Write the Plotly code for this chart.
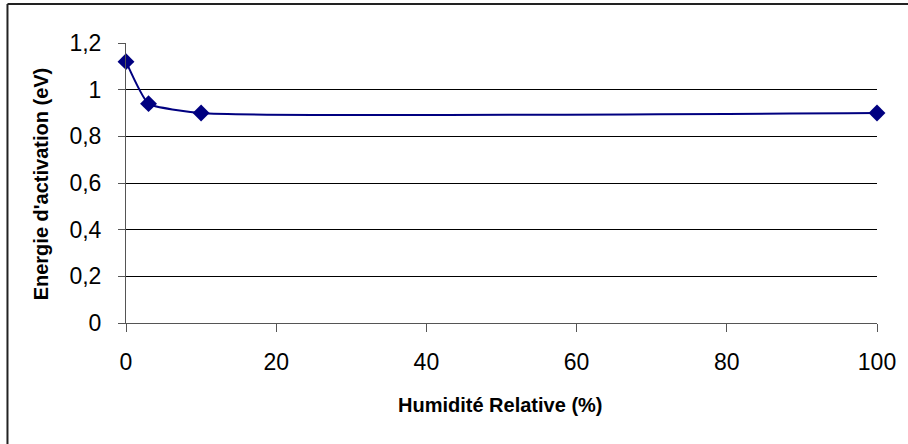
import plotly.graph_objects as go

humidite = [0, 3, 10, 100]
energie = [1.12, 0.94, 0.90, 0.90]
x_ticks = [0, 20, 40, 60, 80, 100]
y_ticks = [0, 0.2, 0.4, 0.6, 0.8, 1.0, 1.2]
x_title = "Humidité Relative (%)"
y_title = "Energie d'activation (eV)"

W, H = 908, 444
ML, MR, MT, MB = 126, 28, 43, 121
PW, PH = W - ML - MR, H - MT - MB

def px(x):
    return (x - ML) / PW

def py(y):
    return (H - MB - y) / PH

navy = "#000080"
font = "Liberation Sans, Arial, sans-serif"

fig = go.Figure()
fig.add_trace(go.Scatter(
    x=humidite, y=energie, mode="lines+markers",
    line=dict(color=navy, width=2, shape="spline", smoothing=0.45),
    marker=dict(symbol="diamond", size=13, color=navy),
    cliponaxis=False, showlegend=False,
))

fig.update_layout(
    width=W, height=H,
    margin=dict(l=ML, r=MR, t=MT, b=MB),
    paper_bgcolor="white", plot_bgcolor="white",
    separators=", ",
    font=dict(family=font, color="black", size=23),
    xaxis=dict(
        range=[0, 100], tickvals=x_ticks, showgrid=False, zeroline=False,
        showline=True, linecolor="#555", linewidth=1,
        ticks="outside", ticklen=8, tickcolor="#555",
        tickfont=dict(size=23), ticklabelstandoff=10,
    ),
    yaxis=dict(
        range=[0, 1.2], tickvals=y_ticks, showgrid=True, gridcolor="black", gridwidth=1,
        zeroline=False, showline=True, linecolor="#555", linewidth=1,
        ticks="outside", ticklen=7, tickcolor="#555",
        tickfont=dict(size=23), ticklabelstandoff=12,
    ),
    shapes=[
        dict(type="line", xref="paper", yref="paper", x0=px(7), x1=px(W + 5), y0=py(4), y1=py(4),
             line=dict(color="#222", width=2)),
        dict(type="line", xref="paper", yref="paper", x0=px(7), x1=px(7), y0=py(4), y1=py(H + 5),
             line=dict(color="#222", width=2)),
    ],
    annotations=[
        dict(text="<b>" + x_title + "</b>", xref="paper", yref="paper", x=px(501), y=py(405),
             showarrow=False, xanchor="center", yanchor="middle", font=dict(size=20)),
        dict(text="<b>" + y_title + "</b>", xref="paper", yref="paper", x=px(41), y=py(184),
             showarrow=False, xanchor="center", yanchor="middle", textangle=-90, font=dict(size=20)),
    ],
)

fig.write_html("out.html", config={"displayModeBar": False},
               post_script="document.body.style.margin='0';")
